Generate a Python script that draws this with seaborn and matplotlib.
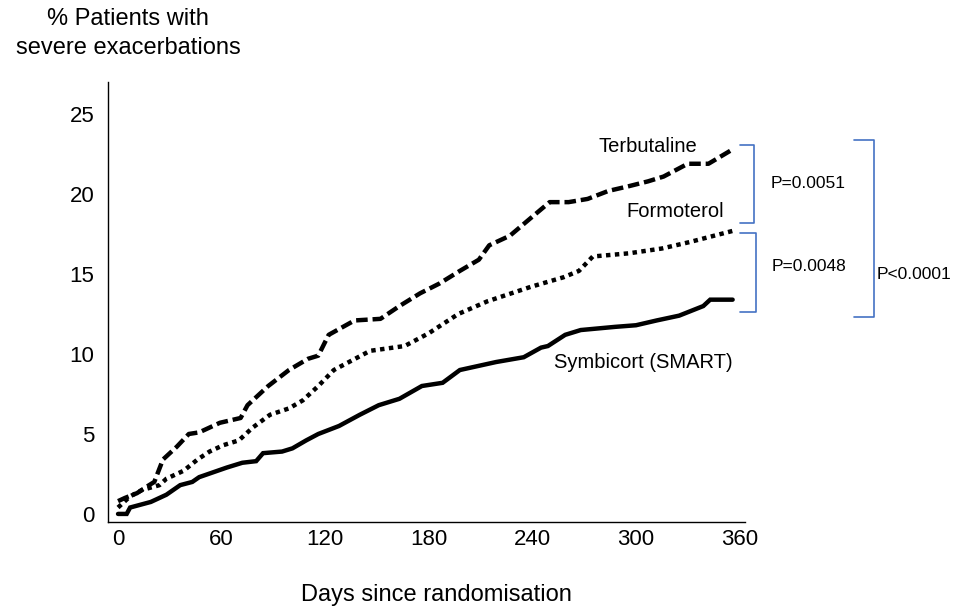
import matplotlib
matplotlib.use("Agg")
import matplotlib.pyplot as plt
import seaborn as sns
import pandas as pd

sns.set_theme(style="white")
plt.rcParams['font.family'] = ['Liberation Sans', 'DejaVu Sans']
plt.rcParams['text.color'] = 'black'
plt.rcParams['xtick.color'] = 'black'
plt.rcParams['ytick.color'] = 'black'

# values (days, % patients)
terb_days = [0, 4, 11, 18, 21, 26, 34, 41, 47, 59, 71, 75, 87, 99, 110, 116, 122, 137,
             152, 163, 175, 186, 198, 209, 215, 227, 239, 250, 261, 272, 284, 296, 307,
             316, 330, 342, 356]
terb_vals = [0.8, 1.0, 1.3, 1.8, 2.0, 3.4, 4.2, 5.0, 5.1, 5.7, 6.0, 6.8, 8.0, 9.0, 9.7,
             9.9, 11.2, 12.1, 12.2, 13.0, 13.8, 14.4, 15.2, 15.9, 16.8, 17.4, 18.5, 19.5,
             19.5, 19.7, 20.2, 20.5, 20.8, 21.1, 21.9, 21.9, 22.8]

form_days = [0, 7, 14, 24, 28, 38, 46, 53, 61, 70, 78, 88, 99, 107, 116, 125, 146, 166,
             180, 197, 214, 239, 258, 267, 275, 296, 315, 331, 356]
form_vals = [0.4, 1.1, 1.5, 1.8, 2.2, 2.7, 3.4, 3.9, 4.3, 4.6, 5.4, 6.2, 6.6, 7.1, 8.0,
             9.0, 10.2, 10.5, 11.3, 12.5, 13.3, 14.2, 14.8, 15.2, 16.1, 16.3, 16.6, 17.0,
             17.7]

symb_days = [0, 5, 7, 19, 28, 36, 43, 47, 55, 63, 72, 80, 84, 95, 101, 109, 116, 128,
             140, 151, 163, 176, 188, 198, 219, 235, 245, 249, 259, 268, 288, 300, 308,
             312, 325, 339, 343, 356]
symb_vals = [0.0, 0.0, 0.4, 0.75, 1.2, 1.8, 2.0, 2.3, 2.6, 2.9, 3.2, 3.3, 3.8, 3.9, 4.1,
             4.6, 5.0, 5.5, 6.2, 6.8, 7.2, 8.0, 8.2, 9.0, 9.5, 9.8, 10.4, 10.5, 11.2, 11.5,
             11.7, 11.8, 12.0, 12.1, 12.4, 13.0, 13.4, 13.4]

groups = ['Symbicort (SMART)', 'Formoterol', 'Terbutaline']
x_ticks = [0, 60, 120, 180, 240, 300, 360]
y_ticks = [0, 5, 10, 15, 20, 25]

# bracket spans (% values) and p-values
brackets = [(18.2, 23.1, 'P=0.0051'), (12.6, 17.6, 'P=0.0048'), (12.3, 23.4, 'P<0.0001')]

df = pd.concat([
    pd.DataFrame({'day': symb_days, 'pct': symb_vals, 'group': groups[0]}),
    pd.DataFrame({'day': form_days, 'pct': form_vals, 'group': groups[1]}),
    pd.DataFrame({'day': terb_days, 'pct': terb_vals, 'group': groups[2]}),
])

fig = plt.figure(figsize=(9.56, 6.09), dpi=100)
ax = fig.add_axes([0.113, 0.143, 0.666, 0.722])

sns.lineplot(data=df, x='day', y='pct', hue='group', style='group',
             palette={g: 'black' for g in groups},
             dashes={groups[0]: '', groups[1]: (1, 1), groups[2]: (2.6, 1.1)},
             linewidth=3.2, legend=False, ax=ax, estimator=None, sort=False)
for line in ax.lines:
    line.set_dash_capstyle('butt')
    line.set_solid_joinstyle('miter')

ax.set_xlim(-5.8, 363)
ax.set_ylim(-0.5, 27)
ax.set_xticks(x_ticks)
ax.set_yticks(y_ticks)
ax.tick_params(axis='both', length=0, labelsize=16, pad=10)
ax.tick_params(axis='x', pad=5)
sns.despine(ax=ax)
for s in ['left', 'bottom']:
    ax.spines[s].set_color('black')
    ax.spines[s].set_linewidth(1.0)
ax.set_xlabel('')
ax.set_ylabel('')

fig.text(0.134, 0.945, '% Patients with\nsevere exacerbations', ha='center', va='center',
         fontsize=17, linespacing=1.45)
fig.text(0.457, 0.023, 'Days since randomisation', ha='center', va='center', fontsize=17)

ax.text(307, 23.0, 'Terbutaline', ha='center', va='center', fontsize=14.5)
ax.text(323, 18.9, 'Formoterol', ha='center', va='center', fontsize=14.5)
ax.text(304, 9.5, 'Symbicort (SMART)', ha='center', va='center', fontsize=14.5)

blue = '#4472C4'
specs = [(360, 368.6, 378), (360, 369.8, 378.5), (426.5, 438, 439.5)]
for (lo, hi, label), (x0, x1, xt) in zip(brackets, specs):
    ax.plot([x0, x1, x1, x0], [hi, hi, lo, lo], color=blue, lw=1.2, clip_on=False)
    ty = (lo + hi) / 2 if label != 'P<0.0001' else 15.0
    ax.text(xt, ty + (0.4 if label == 'P=0.0048' else 0.0), label, ha='left', va='center',
            fontsize=12.5, clip_on=False)

fig.savefig('out.png', dpi=100)
